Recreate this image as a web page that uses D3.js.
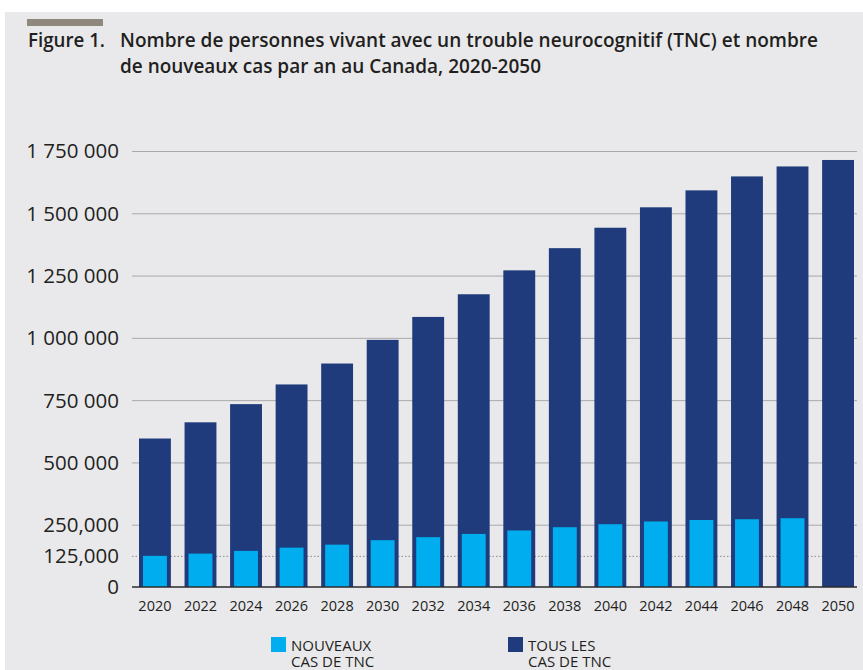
<!DOCTYPE html>
<meta charset="utf-8">
<script src="https://d3js.org/d3.v7.min.js"></script>
<style>
  body { margin: 0; background: #fff; }
  text { font-family: "Open Sans", "Noto Sans", sans-serif; fill: #231f20; }
</style>
<body>
<div id="canvas"></div>
<script>
  // données
  var years = [2020, 2022, 2024, 2026, 2028, 2030, 2032, 2034, 2036, 2038, 2040, 2042, 2044, 2046, 2048, 2050];
  var tousCas = [596000, 661000, 734000, 813000, 897000, 992000, 1084000, 1175000, 1271000, 1360000, 1442000, 1524000, 1592000, 1648000, 1688000, 1714000];
  var nouveauxCas = [125000, 134000, 145000, 158000, 170000, 188000, 200000, 213000, 227000, 240000, 252000, 263000, 269000, 272000, 276000, null];
  var yTicks = [0, 125000, 250000, 500000, 750000, 1000000, 1250000, 1500000, 1750000];
  var yTickLabels = ["0", "125,000", "250,000", "500 000", "750 000", "1 000 000", "1 250 000", "1 500 000", "1 750 000"];
  var legendItems = [["NOUVEAUX", "CAS DE TNC"], ["TOUS LES", "CAS DE TNC"]];

  var width = 863, height = 670;
  var dark = "#1f3b7b", light = "#00aeef";

  var svg = d3.select("#canvas").append("svg")
    .attr("width", width)
    .attr("height", height);

  // fond gris
  svg.append("rect")
    .attr("x", 5).attr("y", 12)
    .attr("width", width - 5).attr("height", height - 12)
    .attr("fill", "#e9e9ec");

  svg.append("rect")
    .attr("x", 27).attr("y", 19)
    .attr("width", 76).attr("height", 7)
    .attr("fill", "#8f897d");

  // titre
  var title = svg.append("g").style("font-weight", 600).style("font-size", "19px");
  title.append("text").attr("x", 28).attr("y", 46.5)
    .attr("textLength", 77).attr("lengthAdjust", "spacingAndGlyphs")
    .text("Figure 1.");
  title.append("text").attr("x", 120).attr("y", 46.5)
    .attr("textLength", 698).attr("lengthAdjust", "spacingAndGlyphs")
    .text("Nombre de personnes vivant avec un trouble neurocognitif (TNC) et nombre");
  title.append("text").attr("x", 120).attr("y", 73)
    .attr("textLength", 421).attr("lengthAdjust", "spacingAndGlyphs")
    .text("de nouveaux cas par an au Canada, 2020-2050");

  // échelles
  var x = d3.scaleBand()
    .domain(years)
    .range([134, 859])
    .paddingInner(0.3)
    .paddingOuter(0.11);

  var y = d3.scaleLinear()
    .domain([0, 1750000])
    .range([587, 151]);

  var gridLeft = 132, gridRight = 857;

  // axe y avec lignes de grille
  var yAxis = svg.append("g")
    .attr("transform", "translate(" + gridLeft + ",0)")
    .call(d3.axisLeft(y)
      .tickValues(yTicks)
      .tickSizeInner(-(gridRight - gridLeft))
      .tickSizeOuter(0)
      .tickPadding(13)
      .tickFormat(function(d, i) { return yTickLabels[i]; }));
  yAxis.select(".domain").remove();
  yAxis.selectAll(".tick line")
    .attr("stroke-width", 1)
    .attr("stroke-dasharray", function(d) { return d === 125000 ? "1.5,2" : null; })
    .attr("stroke", function(d) { return d === 125000 ? "#8a8a8c" : "#a9a9ab"; })
    .style("display", function(d) { return d === 0 ? "none" : null; });
  yAxis.selectAll(".tick text")
    .style("font-size", "20.5px")
    .attr("fill", "#231f20")
    .attr("dy", "0.34em");

  // barres : tous les cas
  svg.selectAll(".tous")
    .data(years)
    .enter().append("rect")
    .attr("class", "tous")
    .attr("x", function(d) { return x(d); })
    .attr("y", function(d, i) { return y(tousCas[i]); })
    .attr("width", x.bandwidth())
    .attr("height", function(d, i) { return y(0) - y(tousCas[i]); })
    .attr("fill", dark);

  // barres : nouveaux cas
  var inner = x.bandwidth() * 0.75;
  svg.selectAll(".nouveaux")
    .data(years.filter(function(d, i) { return nouveauxCas[i] != null; }))
    .enter().append("rect")
    .attr("class", "nouveaux")
    .attr("x", function(d) { return x(d) + (x.bandwidth() - inner) / 2; })
    .attr("y", function(d, i) { return y(nouveauxCas[i]); })
    .attr("width", inner)
    .attr("height", function(d, i) { return y(0) - y(nouveauxCas[i]); })
    .attr("fill", light);

  // ligne zéro
  svg.append("line")
    .attr("x1", gridLeft).attr("x2", gridRight)
    .attr("y1", y(0)).attr("y2", y(0))
    .attr("stroke", "#2b2b2e").attr("stroke-width", 1.3);

  // axe x
  var xAxis = svg.append("g")
    .attr("transform", "translate(0," + y(0) + ")")
    .call(d3.axisBottom(x).tickSize(0).tickPadding(14));
  xAxis.select(".domain").remove();
  xAxis.selectAll(".tick text")
    .style("font-size", "14.5px")
    .attr("fill", "#231f20");

  // légende
  var legX = [271, 508];
  var legend = svg.selectAll(".leg")
    .data(legendItems)
    .enter().append("g")
    .attr("class", "leg")
    .attr("transform", function(d, i) { return "translate(" + legX[i] + ",637)"; });
  legend.append("rect")
    .attr("width", 15).attr("height", 15)
    .attr("fill", function(d, i) { return i === 0 ? light : dark; });
  legend.each(function(d) {
    var t = d3.select(this).append("text").style("font-size", "15px");
    t.append("tspan").attr("x", 20).attr("y", 14).text(d[0]);
    t.append("tspan").attr("x", 20).attr("y", 29.5).text(d[1]);
  });
</script>
</body>
